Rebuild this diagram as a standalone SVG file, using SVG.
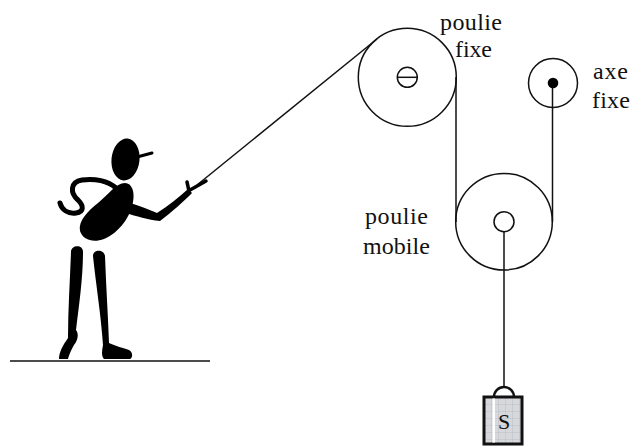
<svg xmlns="http://www.w3.org/2000/svg" width="633" height="446" viewBox="0 0 633 446">
  <style>
    .wheel { fill: none; stroke: #111; stroke-width: 1.5; }
    .rope { fill: none; stroke: #111; stroke-width: 1.5; }
    .ink { fill: #000; stroke: none; }
    .limb { fill: none; stroke: #000; stroke-linecap: round; stroke-linejoin: round; }
    .label, .mark { font-family: 'Liberation Serif', 'DejaVu Serif', serif; fill: #111; }
    .label { font-size: 24px; }
    .mark { font-size: 22px; text-anchor: middle; }
  </style>
  <defs>
    <pattern id="mesh" width="7" height="7" patternUnits="userSpaceOnUse" x="484" y="397">
      <rect width="7" height="7" fill="#d6d8dc"/>
      <path d="M0,0 H7 M0,0 V7" stroke="#b4b8be" stroke-width="0.8" fill="none"/>
    </pattern>
  </defs>

  <rect width="633" height="446" fill="#fff"/>

  <!-- ground -->
  <g id="ground">
    <line x1="10" y1="361" x2="210" y2="361" stroke="#111" stroke-width="1.4"/>
  </g>

  <!-- ropes -->
  <g id="connectors">
    <line class="rope" x1="197" y1="185" x2="377" y2="39"/>
    <line class="rope" x1="456" y1="77" x2="456" y2="222"/>
    <line class="rope" x1="552.5" y1="83" x2="552.5" y2="222"/>
    <line class="rope" x1="504" y1="232" x2="504" y2="387"/>
  </g>

  <!-- man pulling the rope -->
  <g id="man">
    <ellipse class="ink" cx="125.5" cy="159.5" rx="14" ry="21" transform="rotate(6 125.5 159.5)"/>
    <line class="limb" x1="137" y1="157" x2="152" y2="153" stroke-width="3"/>
    <path class="ink" d="M125,183 C132,183 135,192 133,202 C131,216 119,233 104,239 C93,243 83,240 80,231 C78,221 88,211 98,203 C108,195 116,183 125,183 Z"/>
    <path class="limb" stroke-width="5" d="M116,188 C108,181 95,178 82,180 C70,182 70,193 78,200 C84,206 84,212 76,213 C68,214 62,210 60,203"/>
    <path class="ink" d="M126,202 C138,205 150,210 157,213 C168,206 179,197 188,189 L192,193 C184,201 172,212 160,221 C148,220 136,216 126,213 Z"/>
    <path class="limb" stroke-width="3.5" d="M189,191 L187,182 M190,190 L206,181"/>
    <path class="ink" d="M71,252 C71,245 83,244 83,252 C83,278 79,305 76,330 C79,334 78,340 74,345 C71,350 69,355 68,359 L59,359 C59,352 63,345 68,338 C68,310 70,280 71,252 Z"/>
    <path class="ink" d="M93,256 C93,249 104,249 105,256 C106,285 108,315 109,343 C115,346 124,348 129,350 C133,352 133,358 130,359 L104,359 C101,356 102,350 103,345 C101,315 96,285 93,256 Z"/>
  </g>

  <!-- fixed pulley -->
  <g id="fixed-pulley">
    <circle class="wheel" cx="407.3" cy="77.3" r="49"/>
    <circle class="wheel" cx="407.3" cy="77.3" r="10"/>
    <line class="wheel" x1="397.3" y1="77.3" x2="417.3" y2="77.3"/>
    <text class="label" x="440" y="30" textLength="62">poulie</text>
    <text class="label" x="455" y="57" textLength="37">fixe</text>
  </g>

  <!-- fixed axle -->
  <g id="fixed-axle">
    <circle class="wheel" cx="553" cy="83" r="24.5"/>
    <circle class="ink" cx="553" cy="83" r="5.3"/>
    <text class="label" x="593" y="79" textLength="35">axe</text>
    <text class="label" x="592" y="108" textLength="38">fixe</text>
  </g>

  <!-- mobile pulley -->
  <g id="mobile-pulley">
    <circle class="wheel" cx="504" cy="221.7" r="48.3"/>
    <circle class="wheel" cx="504" cy="221.7" r="10"/>
    <text class="label" x="365" y="224" textLength="63">poulie</text>
    <text class="label" x="363" y="254" textLength="67">mobile</text>
  </g>

  <!-- load S -->
  <g id="load">
    <path d="M494,397 A10,10 0 0 1 514,397" fill="none" stroke="#111" stroke-width="2.5"/>
    <rect x="484" y="397" width="38" height="47" fill="url(#mesh)" stroke="#111" stroke-width="3"/>
    <rect x="492.5" y="398.5" width="2.5" height="44" fill="#fff"/>
    <text class="mark" x="504" y="429">S</text>
  </g>
</svg>
